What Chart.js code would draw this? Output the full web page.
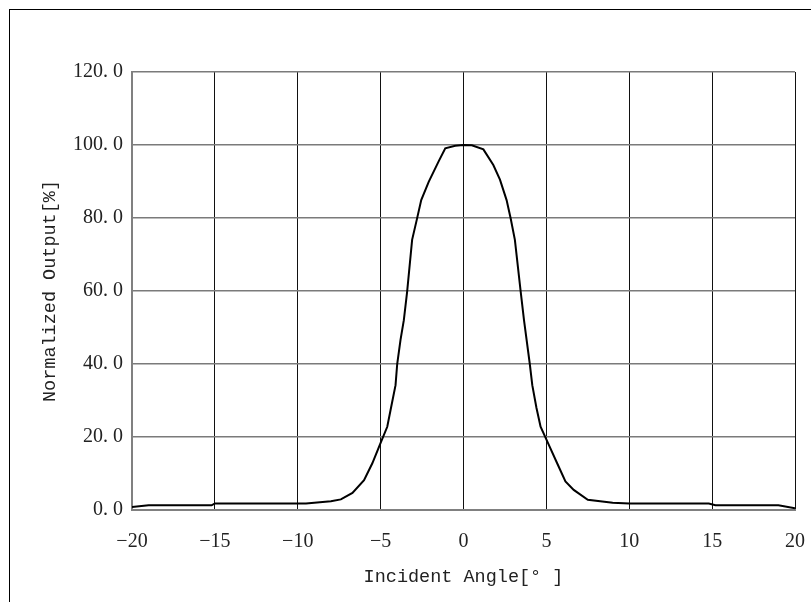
<!DOCTYPE html>
<html>
<head>
<meta charset="utf-8">
<script src="https://cdn.jsdelivr.net/npm/chart.js@4"></script>
<style>
    body { margin: 0; background: #fff; }
    #wrap { position: relative; width: 811px; height: 602px; }
    #frame { position: absolute; left: 9px; top: 9px; right: 0; bottom: 0; border-top: 1.5px solid #000; border-left: 1.5px solid #000; }
</style>
</head>
<body>
<div id="wrap">
    <canvas id="chart" width="811" height="602"></canvas>
    <div id="frame"></div>
</div>
<script>
// incident angle [deg] and normalized output [%]
const angles = [-20, -19, -15.2, -15, -9.5, -9, -8, -7.4, -6.7, -6, -5.5, -5, -4.6, -4.4, -4.1, -4, -3.8, -3.6, -3.4, -3.1, -2.8, -2.55, -2.1, -1.5, -1.1, -0.5, 0, 0.5, 1.2, 1.8, 2.2, 2.6, 2.85, 3.1, 3.45, 3.65, 4, 4.15, 4.4, 4.65, 5.1, 5.65, 6.15, 6.65, 7.5, 9, 10, 14.8, 15.2, 19, 20]
const output = [0.8, 1.3, 1.3, 1.8, 1.8, 2.0, 2.4, 2.9, 4.7, 8.2, 12.8, 18.4, 22.8, 27.4, 34.2, 40, 46.6, 52, 59.8, 74, 79.9, 84.9, 89.9, 95.5, 99.1, 99.8, 100, 99.9, 98.8, 94.5, 90.5, 84.9, 79.8, 74, 59.8, 52, 40, 34.2, 28, 22.8, 18.3, 12.8, 7.8, 5.5, 2.8, 2.0, 1.8, 1.8, 1.3, 1.3, 0.5]

const xTicks = [-20, -15, -10, -5, 0, 5, 10, 15, 20]
const yTicks = [0, 20, 40, 60, 80, 100, 120]

const tickFont = { family: 'Liberation Serif', size: 20 }
const titleFont = { family: 'Liberation Mono', size: 18.5 }

new Chart(document.getElementById('chart'), {
    type: 'line',
    data: {
        datasets: [{
            data: angles.map((a, i) => ({ x: a, y: output[i] })),
            borderColor: '#000',
            borderWidth: 2,
            pointRadius: 0,
            tension: 0
        }]
    },
    options: {
        responsive: false,
        animation: false,
        layout: { padding: { top: 72, right: 16, left: 39, bottom: 14 } },
        plugins: { legend: { display: false }, tooltip: { enabled: false } },
        scales: {
            x: {
                type: 'linear',
                min: -20, max: 20,
                afterBuildTicks: axis => { axis.ticks = xTicks.map(v => ({ value: v })) },
                afterFit: axis => { axis.height = 78; axis.paddingRight = 0; axis.paddingLeft = 0 },
                grid: { color: '#111', lineWidth: 1, drawTicks: false },
                border: { color: '#808080', width: 2 },
                ticks: {
                    color: '#222', font: tickFont, padding: 20, maxRotation: 0,
                    callback: v => v < 0 ? '\u2212' + Math.abs(v) : String(v)
                },
                title: { display: true, text: 'Incident Angle[° ]', color: '#222', font: titleFont, padding: { top: 4, bottom: 0 } }
            },
            y: {
                min: 0, max: 120,
                afterBuildTicks: axis => { axis.ticks = yTicks.map(v => ({ value: v })) },
                afterFit: axis => { axis.width = 93 },
                grid: { color: '#7a7a7a', lineWidth: 1.5, drawTicks: false },
                border: { color: '#808080', width: 2 },
                ticks: {
                    color: '#222', font: tickFont, padding: 9,
                    callback: v => v.toFixed(1).replace('.', '. ')
                },
                title: { display: true, text: 'Normalized Output[%]', color: '#222', font: titleFont, padding: { top: 0, bottom: 0 } }
            }
        }
    }
});
</script>
</body>
</html>
